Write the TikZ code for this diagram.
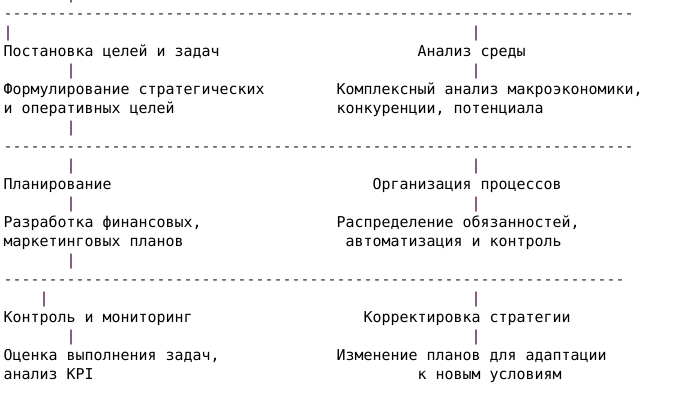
\documentclass[tikz,border=0pt]{standalone}
\usepackage{fontspec}
\setmonofont{DejaVu Sans Mono}
\usepackage{xcolor}
\definecolor{barpurple}{RGB}{70,0,60}
\newcommand\rulerow[1]{\foreach \k in {1,...,#1}{-}}

\begin{document}
\begin{tikzpicture}[x=9pt, y=-19pt, shift={(3.5pt,1pt)},
  txt/.style={anchor=base west, inner sep=0pt, text=black,
    font=\ttfamily\fontsize{14.95pt}{19pt}\selectfont},
  bar/.style={txt, text=barpurple},
  rule/.style={txt, text=black!85}]
\useasboundingbox (-3.5pt,-1pt) rectangle (684.5pt,-414pt);

% Separators
\node[rule] (sep1) at (0,1) {\rulerow{70}};
\node[rule] (sep2) at (0,8) {\rulerow{70}};
\node[rule] (sep3) at (0,15) {\rulerow{69}};

% Bars
\foreach \c/\r [count=\i] in {7/0, 0/2, 52/2, 7/4, 52/4, 7/7,
    7/9, 52/9, 7/11, 52/11, 7/14,
    4/16, 52/16, 7/18, 52/18}
  \node[bar] (bar\i) at (\c,\r) {|};

% Block 1
\node[txt] (goal) at (0,3) {Постановка целей и задач};
\node[txt] (env) at (46,3) {Анализ среды};
\node[txt] (goal1) at (0,5) {Формулирование стратегических};
\node[txt] (goal2) at (0,6) {и оперативных целей};
\node[txt] (env1) at (37,5) {Комплексный анализ макроэкономики,};
\node[txt] (env2) at (37,6) {конкуренции, потенциала};

% Block 2
\node[txt] (plan) at (0,10) {Планирование};
\node[txt] (org) at (41,10) {Организация процессов};
\node[txt] (plan1) at (0,12) {Разработка финансовых,};
\node[txt] (plan2) at (0,13) {маркетинговых планов};
\node[txt] (org1) at (37,12) {Распределение обязанностей,};
\node[txt] (org2) at (38,13) {автоматизация и контроль};

% Block 3
\node[txt] (ctrl) at (0,17) {Контроль и мониторинг};
\node[txt] (adj) at (40,17) {Корректировка стратегии};
\node[txt] (ctrl1) at (0,19) {Оценка выполнения задач,};
\node[txt] (ctrl2) at (0,20) {анализ KPI};
\node[txt] (adj1) at (37,19) {Изменение планов для адаптации};
\node[txt] (adj2) at (46,20) {к новым условиям};
\end{tikzpicture}
\end{document}
